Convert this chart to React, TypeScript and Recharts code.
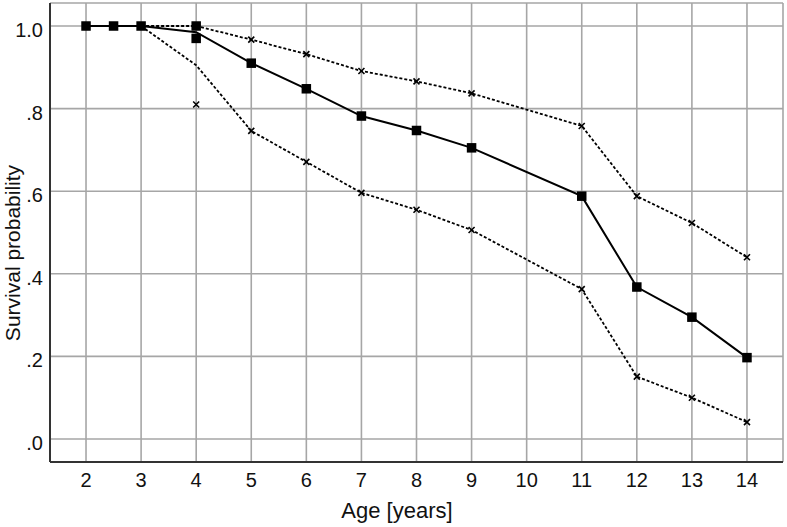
import React from 'react';
import { ComposedChart, Scatter, XAxis, YAxis, CartesianGrid, Label } from 'recharts';

// Survival estimate (line passes through the mean value at age 4)
const survivalAges = [2, 2.5, 3, 4, 5, 6, 7, 8, 9, 11, 12, 13, 14];
const survivalLine = [1, 1, 1, 0.985, 0.91, 0.848, 0.782, 0.747, 0.705, 0.588, 0.368, 0.295, 0.197];
// Square markers
const squareAges = [2, 2.5, 3, 4, 4, 5, 6, 7, 8, 9, 11, 12, 13, 14];
const squareValues = [1, 1, 1, 1, 0.97, 0.91, 0.848, 0.782, 0.747, 0.705, 0.588, 0.368, 0.295, 0.197];
// Confidence limits (dotted lines)
const ciAges = [3, 4, 5, 6, 7, 8, 9, 11, 12, 13, 14];
const upperLine = [1, 1, 0.967, 0.932, 0.891, 0.866, 0.837, 0.758, 0.588, 0.523, 0.44];
const lowerLine = [1, 0.905, 0.746, 0.671, 0.596, 0.555, 0.506, 0.363, 0.151, 0.1, 0.041];
// Cross markers
const upperCrossAges = [4, 5, 6, 7, 8, 9, 11, 12, 13, 14];
const upperCross = [1, 0.967, 0.932, 0.891, 0.866, 0.837, 0.758, 0.588, 0.523, 0.44];
const lowerCrossAges = [4, 4, 5, 6, 7, 8, 9, 11, 12, 13, 14];
const lowerCross = [1, 0.81, 0.746, 0.671, 0.596, 0.555, 0.506, 0.363, 0.151, 0.1, 0.041];

const xTicks = [2, 3, 4, 5, 6, 7, 8, 9, 10, 11, 12, 13, 14];
const yTicks = [0, 0.2, 0.4, 0.6, 0.8, 1.0];
const xTitle = 'Age [years]';
const yTitle = 'Survival probability';

const zip = (xs: number[], ys: number[]) => xs.map((x, i) => ({ x, y: ys[i] }));

const FONT = '"Liberation Sans", Arial, Helvetica, sans-serif';

const Empty = () => <g />;
const Square = (p: any) => (
  <rect x={p.cx - 4.75} y={p.cy - 4.75} width={9.5} height={9.5} fill="#000" />
);
const Cross = (p: any) => (
  <path
    d={`M${p.cx - 3},${p.cy - 3}L${p.cx + 3},${p.cy + 3}M${p.cx - 3},${p.cy + 3}L${p.cx + 3},${p.cy - 3}`}
    stroke="#000"
    strokeWidth={1.6}
    fill="none"
  />
);

const yFmt = (v: number) => (v === 1 ? '1.0' : '.' + Math.round(v * 10));

export default function App() {
  return (
    <div style={{ position: 'absolute', left: 0, top: 0, width: 787, height: 527, background: '#fff' }}>
      <ComposedChart width={787} height={527} margin={{ top: 3, right: 4, bottom: 0, left: 0 }}>
        <CartesianGrid stroke="#a6a6a6" strokeWidth={1.6} />
        <XAxis
          type="number"
          dataKey="x"
          domain={[1.346, 14.654]}
          ticks={xTicks}
          interval={0}
          allowDataOverflow
          height={65}
          tickLine={false}
          tickMargin={5}
          axisLine={{ stroke: '#333', strokeWidth: 2 }}
          tick={{ fontSize: 20, fill: '#111', fontFamily: FONT }}
        >
          <Label
            content={() => (
              <text x={397} y={518} textAnchor="middle" fontSize={22} fill="#111" fontFamily={FONT}>
                {xTitle}
              </text>
            )}
          />
        </XAxis>
        <YAxis
          type="number"
          dataKey="y"
          domain={[-0.0557, 1.0557]}
          ticks={yTicks}
          interval={0}
          allowDataOverflow
          width={50}
          tickLine={false}
          tickMargin={1}
          tickFormatter={yFmt}
          axisLine={{ stroke: '#333', strokeWidth: 2 }}
          tick={{ fontSize: 20, fill: '#111', fontFamily: FONT, dy: 4 }}
        >
          <Label
            content={() => (
              <text
                x={20}
                y={253}
                transform="rotate(-90, 20, 253)"
                textAnchor="middle"
                fontSize={21}
                fill="#111"
                fontFamily={FONT}
              >
                {yTitle}
              </text>
            )}
          />
        </YAxis>
        <Scatter
          data={zip(ciAges, upperLine)}
          dataKey="y"
          shape={Empty}
          line={{ stroke: '#000', strokeWidth: 1.8, strokeDasharray: '3 2' }}
          isAnimationActive={false}
        />
        <Scatter
          data={zip(ciAges, lowerLine)}
          dataKey="y"
          shape={Empty}
          line={{ stroke: '#000', strokeWidth: 1.8, strokeDasharray: '3 2' }}
          isAnimationActive={false}
        />
        <Scatter data={zip(upperCrossAges, upperCross)} dataKey="y" shape={Cross} isAnimationActive={false} />
        <Scatter data={zip(lowerCrossAges, lowerCross)} dataKey="y" shape={Cross} isAnimationActive={false} />
        <Scatter
          data={zip(survivalAges, survivalLine)}
          dataKey="y"
          shape={Empty}
          line={{ stroke: '#000', strokeWidth: 2 }}
          isAnimationActive={false}
        />
        <Scatter data={zip(squareAges, squareValues)} dataKey="y" shape={Square} isAnimationActive={false} />
      </ComposedChart>
    </div>
  );
}
